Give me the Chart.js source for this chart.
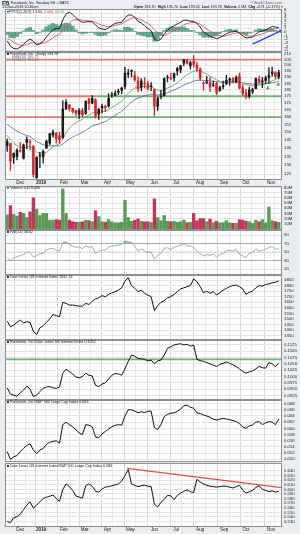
<!DOCTYPE html>
<html><head><meta charset="utf-8">
<script src="https://cdn.jsdelivr.net/npm/chart.js"></script>
<style>
html,body{margin:0;padding:0;}
body{width:300px;height:534px;position:relative;overflow:hidden;background:#eaedf0;font-family:"Liberation Sans",Arial,sans-serif;color:#111;}
canvas{position:absolute;left:0;}
.t{position:absolute;white-space:nowrap;font-size:3.7px;line-height:4px;z-index:5;}
.sq{display:inline-block;width:2.2px;height:2.2px;background:#333;margin-right:1px;}
</style></head><body>
<div class="t" style="left:2px;top:0px;font-size:5.5px;line-height:6px;font-weight:bold">FB</div>
<div class="t" style="left:11px;top:0.8px">Facebook, Inc. Nasdaq GS + BATS</div>
<div class="t" style="left:2px;top:5px">13-Nov-2019 10:46am</div>
<div class="t" style="right:18px;top:0.5px;color:#555">© StockCharts.com</div>
<div class="t" style="right:17px;top:4.8px"><b>Open</b> 194.70 &nbsp;<b>High</b> 195.70 &nbsp;<b>Low</b> 193.05 &nbsp;<b>Last</b> 193.76 &nbsp;<b>Volume</b> 2.5M &nbsp;<b>Chg</b> -0.71 (-0.37%) <span style="color:#d22">▾</span></div>

<div class="t" style="left:7px;top:9.5px">▾PPO(12,26,9) <span>1.130</span>, <span style="color:#d33">1.060</span>, <span style="color:#3a8f78">0.070</span></div>
<div class="t" style="left:7px;top:52.3px"><span class="sq"></span>Facebook, Inc. (Daily) 193.76</div>
<div class="t" style="left:7px;top:55.3px"><span style="color:#6e6aaa">— EMA(50) 186.79</span></div>
<div class="t" style="left:7px;top:58.3px"><span style="color:#4f9d4f">— EMA(20) 190.05</span></div>
<div class="t" style="left:7px;top:186.3px"><span class="sq" style="background:#4f944f"></span>Volume 3,479,430</div>
<div class="t" style="left:7px;top:230.3px"><span class="sq"></span>RSI(14) 58.62</div>
<div class="t" style="left:7px;top:275.3px"><span class="sq"></span>Dow Jones US Internet Index 1842.14</div>
<div class="t" style="left:7px;top:340.3px"><span class="sq"></span>Facebook, Inc./Dow Jones US Internet Index 0.1052</div>
<div class="t" style="left:7px;top:400.3px"><span class="sq"></span>Facebook, Inc./S&amp;P 500 Large Cap Index 0.063</div>
<div class="t" style="left:7px;top:463.8px"><span class="sq"></span>Dow Jones US Internet Index/S&amp;P 500 Large Cap Index 0.596</div>

<script>
// ---------- time axis ----------
const monthLabels = ['Dec','2019','Feb','Mar','Apr','May','Jun','Jul','Aug','Sep','Oct','Nov'];
const monthDay    = [13,32,53,72,93,114,136,156,178,200,220,243];   // trading-day index of month start
const midMonthDay = [2,22,41,63,82,103,124,146,165,188,209,230,250];
const DAYS_PER_BAR = 3;   // each value below covers 3 trading days (13-Nov-2018 .. 13-Nov-2019)

// ---------- Facebook price (3-day bars) ----------
const fbOpen = [141.5,142.8,134.5,135.0,138.5,134.0,143.5,143.5,141.0,123.1,
  135.3,134.7,139.9,143.0,148.0,149.2,147.6,146.5,166.0,168.7,
  166.1,164.6,161.9,164.3,162.6,172.9,170.0,172.5,162.0,166.5,
  167.7,167.8,176.0,175.6,178.0,179.6,182.5,192.5,194.8,191.2,
  187.0,181.9,184.7,184.7,182.5,180.3,167.5,174.8,175.5,190.0,
  188.8,189.5,195.2,196.2,201.8,204.1,199.5,203.5,200.2,196.8,
  185.0,186.0,185.6,183.2,185.0,179.4,183.3,184.6,187.6,188.7,
  186.6,190.7,181.5,177.5,174.8,178.7,180.8,188.4,187.0,187.3,
  189.8,192.9,193.9,190.2];
const fbHigh = [145.5,143.0,137.0,139.5,143.5,142.5,147.0,145.0,141.5,134.9,
  137.5,138.9,144.9,149.2,151.5,149.8,149.8,171.7,172.5,168.7,
  166.2,164.8,166.0,166.2,171.6,173.6,175.6,173.1,166.2,169.2,
  168.5,177.0,178.0,179.2,180.5,182.0,198.5,196.5,196.2,194.9,
  190.0,188.8,189.7,186.7,185.7,180.5,174.4,179.6,189.5,191.7,
  193.1,193.5,198.4,200.0,205.0,205.4,203.5,208.7,202.9,198.0,
  186.5,190.8,189.8,186.9,185.9,182.9,186.9,191.7,189.6,189.9,
  190.9,193.4,184.0,180.3,182.1,181.2,189.5,190.9,190.0,190.9,
  198.0,198.4,194.7,195.7];
const fbLow = [138.0,127.0,131.0,133.0,137.5,133.5,139.5,139.0,123.5,123.0,
  128.6,131.1,139.9,142.1,146.6,142.9,142.8,145.9,165.1,164.3,
  162.7,160.9,158.9,160.2,161.9,165.1,169.3,159.3,158.3,162.9,
  163.7,166.9,174.1,175.3,176.3,176.9,180.7,189.6,190.1,186.6,
  178.5,179.1,181.3,179.8,179.2,161.0,164.6,173.1,175.0,186.2,
  187.7,186.5,191.7,193.6,199.5,200.9,196.8,198.4,194.8,187.5,
  179.5,184.5,178.5,182.5,176.2,178.7,180.6,184.0,183.4,185.3,
  185.6,180.6,175.7,173.1,173.5,176.9,180.6,185.1,181.6,184.9,
  185.0,190.9,188.9,188.6];
const fbClose = [143.9,132.4,136.9,138.7,137.9,141.9,145.2,143.7,124.95,134.5,
  135.7,138.05,144.2,148.95,150.0,145.8,145.0,165.7,170.5,165.8,
  163.95,162.6,164.6,161.45,171.3,169.6,173.4,160.5,165.4,167.7,
  166.7,173.5,175.9,177.2,178.9,181.4,193.3,193.4,195.5,187.9,
  180.5,186.99,184.8,181.1,183.0,167.5,173.35,175.0,189.0,189.5,
  188.8,193.0,197.2,199.6,204.9,201.8,202.3,200.7,197.0,189.0,
  185.15,185.7,182.2,183.8,177.75,181.8,182.4,187.5,188.5,186.2,
  190.1,181.3,177.1,174.6,179.7,180.0,188.9,185.85,186.15,189.4,
  191.65,194.3,190.8,193.76];
const ema20 = [148,145,143,141.5,140.5,140,140.5,141,139.5,137.5,
  137,136.8,137.5,139,140.8,141.8,142.5,145.5,149.5,152.5,
  154.5,156,157.5,158.3,160,161.5,163,163,163.2,163.7,
  164,165.2,166.8,168.3,169.8,171.3,174.5,177.3,179.8,181.3,
  181.6,182.3,182.6,182.6,182.7,180.8,179.8,179.3,180.3,181.3,
  182.3,183.7,185.5,187.5,190,192,193.5,195,195.8,195.2,
  193.8,192.5,190.8,189.5,187.8,186.7,186,186,186.2,186.3,
  186.6,186.2,185.4,184,183.5,182.8,183.3,183.6,183.8,184.5,
  185.6,187.2,188,190.05];
const ema50 = [155,153.5,152,150.5,149.5,148.5,147.8,147.2,145.5,144,
  143,142,141.5,141.3,141.3,141.3,141.3,142.5,144,145.5,
  146.7,147.8,148.8,149.8,151,152.5,154,154.8,155.3,156.2,
  157,158.2,159.8,161.2,162.6,164,166.2,168.5,170.8,172.5,
  173.5,174.6,175.5,176,176.6,176.2,176,176.1,176.8,177.8,
  178.8,179.8,181,182.2,183.6,184.8,185.8,186.8,187.5,187.6,
  187.4,187.3,187,186.8,186.4,186.1,185.9,185.9,186,186,
  186.1,185.9,185.5,184.9,184.6,184.3,184.4,184.5,184.6,184.8,
  185.1,185.6,185.9,186.79];
const priceLevels  = [205, 175, 160];
const levelRedEnd  = [253, 79, 51];      // red part ends at this trading day, green afterwards
const buyDays = [240, 249.5];
const buyVals = [181.3, 184.2];

// ---------- PPO ----------
const ppo = [-2.5,-3.9,-4.6,-4.7,-4.2,-3.4,-2.6,-2.0,-2.6,-3.6,
  -3.3,-2.6,-1.4,-0.4,0.6,0.9,0.9,3.3,4.9,5.4,
  4.8,3.9,3.1,2.6,2.7,2.8,2.7,1.9,1.1,0.8,
  0.6,1.1,1.8,2.3,2.5,2.6,3.9,4.6,4.6,4.0,
  2.9,2.4,1.7,0.9,0.3,-2.0,-2.5,-2.0,-0.6,0.4,
  1.2,1.6,2.2,2.6,3.2,3.2,2.9,2.9,2.3,1.3,
  -0.1,-0.6,-1.3,-1.5,-1.9,-1.6,-1.1,-0.5,-0.1,0.0,
  0.2,-0.4,-1.1,-1.7,-1.6,-1.4,-0.6,0.0,0.2,0.5,
  1.0,1.5,1.3,1.13];
const ppoSignal = [-1.8,-2.3,-2.9,-3.4,-3.7,-3.7,-3.5,-3.2,-3.0,-3.1,
  -3.2,-3.1,-2.8,-2.3,-1.7,-1.1,-0.7,0.3,1.4,2.4,
  3.1,3.4,3.4,3.2,3.1,3.0,2.9,2.6,2.2,1.8,
  1.5,1.4,1.5,1.7,2.0,2.2,2.7,3.3,3.7,3.9,
  3.6,3.3,2.8,2.3,1.7,0.6,-0.4,-1.0,-1.0,-0.6,
  -0.1,0.4,0.9,1.4,1.9,2.3,2.5,2.6,2.5,2.1,
  1.4,0.8,0.2,-0.3,-0.8,-1.1,-1.2,-1.0,-0.8,-0.5,
  -0.3,-0.3,-0.5,-0.9,-1.2,-1.3,-1.1,-0.8,-0.5,-0.2,
  0.2,0.6,0.9,1.06];
const ppoHist = [-0.7,-1.6,-1.7,-1.3,-0.5,0.3,0.9,1.2,0.4,-0.5,
  -0.1,0.5,1.4,1.9,2.3,2.0,1.6,2.2,2.4,2.2,
  1.6,0.5,-0.3,-0.6,-0.4,-0.2,-0.2,-0.7,-1.1,-1.0,
  -0.9,-0.3,0.3,0.6,0.5,0.4,1.2,1.3,0.9,0.1,
  -0.7,-0.9,-1.1,-1.4,-1.4,-2.6,-2.1,-1.0,0.4,1.0,
  1.3,1.2,1.3,1.2,1.3,0.9,0.4,0.3,-0.2,-0.8,
  -1.5,-1.4,-1.5,-1.2,-1.1,-0.5,0.1,0.5,0.7,0.5,
  0.5,-0.1,-0.6,-0.8,-0.4,-0.1,0.5,0.8,0.7,0.7,
  0.8,0.9,0.4,0.07];
const arrowDays = [226, 252];
const arrowVals = [-3.35, 0.25];

// ---------- volume (millions) ----------
const volume = [27,45,28,25,32,30,22,33,60,38,
  26,30,30,17,17,18,17,77,30,17,
  14,13,13,14,17,16,14,35,24,14,
  13,18,14,12,12,13,55,22,15,17,
  19,15,14,14,13,58,22,16,26,15,
  14,15,13,14,17,12,13,30,16,20,
  20,14,19,12,15,12,12,16,12,11,
  11,18,17,15,14,11,17,14,18,12,
  42,16,14,13];

// ---------- RSI(14) ----------
const rsi = [37,30,36,39,42,44,50,49,38,42,
  45,48,55,58,59,54,52,72,74,68,
  64,61,62,58,64,61,63,46,52,54,
  55,61,64,65,66,68,76,74,73,63,
  52,57,53,49,50,33,42,47,59,60,
  56,61,64,66,70,64,65,59,53,46,
  41,44,42,45,38,44,46,53,54,52,
  56,45,41,37,47,48,58,52,54,57,
  60,63,56,58.62];
const rsiLevels = [70, 50, 30];

// ---------- Dow Jones US Internet Index ----------
const djInet = [1480,1430,1445,1470,1490,1465,1475,1470,1390,1360,
  1420,1440,1470,1500,1540,1530,1520,1650,1640,1625,
  1625,1620,1615,1615,1640,1630,1660,1680,1690,1710,
  1700,1720,1735,1745,1760,1780,1840,1870,1800,1775,
  1745,1760,1730,1715,1700,1575,1620,1650,1665,1690,
  1700,1720,1745,1770,1780,1790,1800,1860,1835,1790,
  1735,1750,1730,1745,1715,1735,1760,1775,1790,1800,
  1805,1790,1770,1720,1740,1750,1780,1800,1795,1810,
  1815,1825,1830,1842.14];

// ---------- ratios ----------
const fbToInet = [0.0955,0.0930,0.0926,0.0922,0.0935,0.0946,0.0962,0.0950,0.0920,0.0926,
  0.0940,0.0953,0.0958,0.0960,0.0955,0.0953,0.0958,0.1013,0.1029,0.1020,
  0.1010,0.0998,0.0995,0.1000,0.1013,0.1005,0.1002,0.0965,0.0960,0.0970,
  0.0975,0.0990,0.1005,0.1012,0.1010,0.1005,0.1030,0.1060,0.1085,0.1080,
  0.1072,0.1070,0.1068,0.1062,0.1065,0.1050,0.1062,0.1065,0.1085,0.1112,
  0.1118,0.1125,0.1128,0.1130,0.1125,0.1128,0.1120,0.1125,0.1068,0.1063,
  0.1060,0.1055,0.1050,0.1045,0.1040,0.1048,0.1052,0.1058,0.1052,0.1046,
  0.1040,0.1030,0.1020,0.1013,0.1018,0.1022,0.1030,0.1040,0.1035,0.1033,
  0.1055,0.1050,0.1040,0.1052];
const fbToInetLevel = 0.1068;

const fbToSpx = [0.0525,0.0500,0.0508,0.0512,0.0525,0.0535,0.0545,0.0550,0.0530,0.0518,
  0.0530,0.0535,0.0548,0.0555,0.0558,0.0560,0.0552,0.0612,0.0620,0.0612,
  0.0605,0.0596,0.0585,0.0580,0.0612,0.0610,0.0605,0.0572,0.0570,0.0582,
  0.0590,0.0598,0.0605,0.0610,0.0612,0.0610,0.0640,0.0660,0.0660,0.0656,
  0.0650,0.0654,0.0651,0.0655,0.0656,0.0602,0.0596,0.0612,0.0638,0.0645,
  0.0649,0.0650,0.0655,0.0662,0.0673,0.0675,0.0668,0.0665,0.0650,0.0648,
  0.0643,0.0640,0.0636,0.0630,0.0627,0.0630,0.0632,0.0630,0.0628,0.0625,
  0.0622,0.0615,0.0605,0.0600,0.0608,0.0611,0.0620,0.0622,0.0612,0.0618,
  0.0622,0.0620,0.0612,0.0630];

const inetToSpx = [0.530,0.528,0.538,0.541,0.546,0.556,0.566,0.573,0.559,0.566,
  0.573,0.580,0.583,0.585,0.588,0.580,0.574,0.600,0.612,0.606,
  0.598,0.586,0.583,0.581,0.608,0.612,0.607,0.596,0.594,0.601,
  0.605,0.606,0.608,0.610,0.612,0.618,0.630,0.643,0.612,0.609,
  0.606,0.608,0.609,0.607,0.606,0.568,0.562,0.572,0.578,0.587,
  0.586,0.578,0.587,0.592,0.596,0.599,0.595,0.593,0.622,0.616,
  0.612,0.609,0.607,0.606,0.605,0.606,0.607,0.607,0.605,0.603,
  0.606,0.609,0.598,0.592,0.595,0.598,0.604,0.608,0.600,0.598,
  0.595,0.597,0.594,0.596];
const trendDays = [111, 253];
const trendVals = [0.6455, 0.604];

// ---------- tick labels ----------
const ppoTicks   = [-5,-4,-3,-2,-1,0,1,2,3,4,5,6];
const priceTicks = [125,130,135,140,145,150,155,160,165,170,175,180,185,190,195,200,205,210];
const volTicks   = [10,20,30,40,50,60,70,80];
const rsiTicks   = [10,30,50,70,90];
const inetTicks  = [1350,1400,1450,1500,1550,1600,1650,1700,1750,1800,1850];
const fbInetTicks= [0.0925,0.0950,0.0975,0.1000,0.1025,0.1050,0.1075,0.1100,0.1125];
const fbSpxTicks = [0.050,0.052,0.054,0.056,0.058,0.060,0.062,0.064,0.066,0.068];
const inetSpxTicks=[0.530,0.540,0.550,0.560,0.570,0.580,0.590,0.600,0.610,0.620,0.630,0.640];

// ---------- helpers ----------
const FONT = "'Liberation Sans', Arial, sans-serif";
const xOf = i => i * DAYS_PER_BAR + 1;
const pts = arr => arr.map((v, i) => ({x: xOf(i), y: v}));
const seg = (days, vals) => days.map((d, i) => ({x: d, y: vals[i]}));
const lineDs = (data, color, w, order, extra) => Object.assign({type:'line', data, borderColor:color, borderWidth:w, pointRadius:0, tension:0, order}, extra||{});

const frame = {
  id:'frame',
  beforeDraw(c){const {ctx, chartArea:a} = c; ctx.save(); ctx.fillStyle='#ffffff'; ctx.fillRect(a.left,a.top,a.width,a.height); ctx.restore();},
  afterDraw(c){const {ctx, chartArea:a} = c; ctx.save(); ctx.strokeStyle='#8c8f94'; ctx.lineWidth=1; ctx.strokeRect(Math.round(a.left)+0.5,Math.round(a.top)+0.5,Math.round(a.width)-1,Math.round(a.height)); ctx.restore();}
};
Chart.register(frame);

function yAxis(type, min, max, ticks, fmt){
  return {type, min, max, position:'right',
    afterBuildTicks: s => { s.ticks = ticks.map(v => ({value:v})); },
    afterFit: s => { s.width = 18; s.paddingTop = 0; s.paddingBottom = 0; },
    ticks:{callback: fmt, autoSkip:false, padding:2, color:'#222', font:{family:FONT, size:4.3}},
    grid:{color:'#e4e4e4', lineWidth:1, drawTicks:false}, border:{display:false}};
}

function makePanel(plotTop, plotH, xLabels, yCfg, datasets){
  const pad = 4, bottom = xLabels ? 9 : pad;
  const h = pad + plotH + bottom;
  const cv = document.createElement('canvas');
  cv.width = 300; cv.height = h;
  cv.style.top = (plotTop - pad) + 'px'; cv.style.width = '300px'; cv.style.height = h + 'px';
  document.body.appendChild(cv);
  return new Chart(cv, {
    type:'bar',
    data:{datasets},
    options:{
      responsive:false, animation:false, events:[],
      layout:{padding:{left:5, right:0, top:pad, bottom: xLabels ? 2 : pad}},
      plugins:{legend:{display:false}, tooltip:{enabled:false}},
      scales:{
        x:{type:'linear', min:-1, max:253, offset:false,
          afterBuildTicks: s => { s.ticks = monthDay.concat(midMonthDay).sort((a,b)=>a-b).map(v => ({value:v})); },
          afterFit: s => { s.height = xLabels ? 7 : 0; s.paddingLeft = 0; s.paddingRight = 0; },
          ticks:{display:xLabels, autoSkip:false, maxRotation:0, padding:1, color:'#222',
            font: c => ({family:FONT, size:4.6, weight: (c.tick && monthLabels[monthDay.indexOf(c.tick.value)] === '2019') ? 'bold' : 'normal'}),
            callback: v => { const k = monthDay.indexOf(v); return k >= 0 ? monthLabels[k] : ''; }},
          grid:{color: c => (c.tick && monthDay.includes(c.tick.value)) ? '#d7d7d7' : '#ebebeb', lineWidth:1, drawTicks:false},
          border:{display:false}},
        y: yCfg
      }
    }
  });
}

const RED = '#d8262c', BLACK = '#1b1b1b';
const candleColor = fbClose.map((c, i) => (i > 0 && c < fbClose[i-1]) ? RED : BLACK);
const volColor = fbClose.map((c, i) => (i > 0 && c < fbClose[i-1]) ? '#c2345a' : '#5a9a55');

// ---------- PPO panel ----------
makePanel(9, 42, false, yAxis('linear', -5.27, 6.27, ppoTicks, v => String(v)), [
  lineDs(seg(arrowDays, arrowVals), '#2a45e6', 1.4, 0, {pointRadius:[0,2.6], pointStyle:'triangle', rotation:65, pointBackgroundColor:'#2a45e6', pointBorderWidth:0}),
  lineDs(pts(ppo), '#111', 0.9, 1),
  lineDs(pts(ppoSignal), '#e05a5a', 0.9, 2),
  {type:'bar', data:pts(ppoHist), backgroundColor:'rgba(66,146,122,0.8)', barThickness:3.4, grouped:false, order:3}
]);

// ---------- price panel ----------
const levelSets = [];
priceLevels.forEach((lv, k) => {
  levelSets.push(lineDs(seg([-1, levelRedEnd[k]], [lv, lv]), 'rgba(232,100,100,0.85)', 1.8, 10));
  if (levelRedEnd[k] < 253) levelSets.push(lineDs(seg([levelRedEnd[k], 253], [lv, lv]), 'rgba(96,172,96,0.9)', 1.8, 10));
});
makePanel(52, 127, true, yAxis('logarithmic', 122.5, 211.8, priceTicks, v => String(v)), [
  lineDs(seg(buyDays, buyVals), '#3ca33c', 0, 0, {showLine:false, pointRadius:2.2, pointStyle:'triangle', pointBackgroundColor:'#3ca33c', pointBorderWidth:0}),
  {type:'bar', data: fbOpen.map((o, i) => ({x:xOf(i), y:[Math.min(o, fbClose[i]), Math.max(Math.max(o, fbClose[i]), Math.min(o, fbClose[i]) + 0.4)]})), backgroundColor:candleColor, barThickness:1.9, grouped:false, order:1},
  {type:'bar', data: fbLow.map((l, i) => ({x:xOf(i), y:[l, fbHigh[i]]})), backgroundColor:candleColor, barThickness:0.7, grouped:false, order:2},
  lineDs(pts(ema20), '#5eab5e', 0.9, 4),
  lineDs(pts(ema50), '#6e6aaa', 0.9, 5),
  ...levelSets
]);

// ---------- volume panel ----------
makePanel(186, 43, false, yAxis('linear', 0, 82.7, volTicks, v => v + 'M'), [
  {type:'bar', data:pts(volume), backgroundColor:volColor, barThickness:2.7, grouped:false, order:1}
]);

// ---------- RSI panel ----------
makePanel(230, 44, false, yAxis('linear', -1.7, 101.8, rsiTicks, v => String(v)), [
  lineDs(pts(rsi), '#8c95aa', 0.8, 1, {fill:{target:{value:70}, above:'rgba(80,170,170,0.65)', below:'rgba(0,0,0,0)'}}),
  ...rsiLevels.map(lv => lineDs(seg([-1, 253], [lv, lv]), lv === 50 ? '#b5b5b5' : '#9a9a9a', 0.7, 5, lv === 50 ? {borderDash:[1.5,1.5]} : {}))
]);

// ---------- DJ US Internet ----------
makePanel(275, 64, false, yAxis('linear', 1320.4, 1894.9, inetTicks, v => String(v)), [
  lineDs(pts(djInet), '#111', 1, 1)
]);

// ---------- FB / DJ Internet ----------
makePanel(340, 59, false, yAxis('linear', 0.09107, 0.11448, fbInetTicks, v => v.toFixed(4)), [
  lineDs(pts(fbToInet), '#111', 1, 1),
  lineDs(seg([-1, 253], [fbToInetLevel, fbToInetLevel]), 'rgba(96,176,96,0.95)', 1.8, 5)
]);

// ---------- FB / SPX ----------
makePanel(400, 61, false, yAxis('linear', 0.04945, 0.06916, fbSpxTicks, v => v.toFixed(3)), [
  lineDs(pts(fbToSpx), '#111', 1, 1)
]);

// ---------- DJ Internet / SPX ----------
makePanel(463, 63, true, yAxis('linear', 0.52043, 0.65739, inetSpxTicks, v => v.toFixed(3)), [
  lineDs(seg(trendDays, trendVals), '#e84a4a', 1.3, 0),
  lineDs(pts(inetToSpx), '#111', 1, 1)
]);
</script>
</body></html>
